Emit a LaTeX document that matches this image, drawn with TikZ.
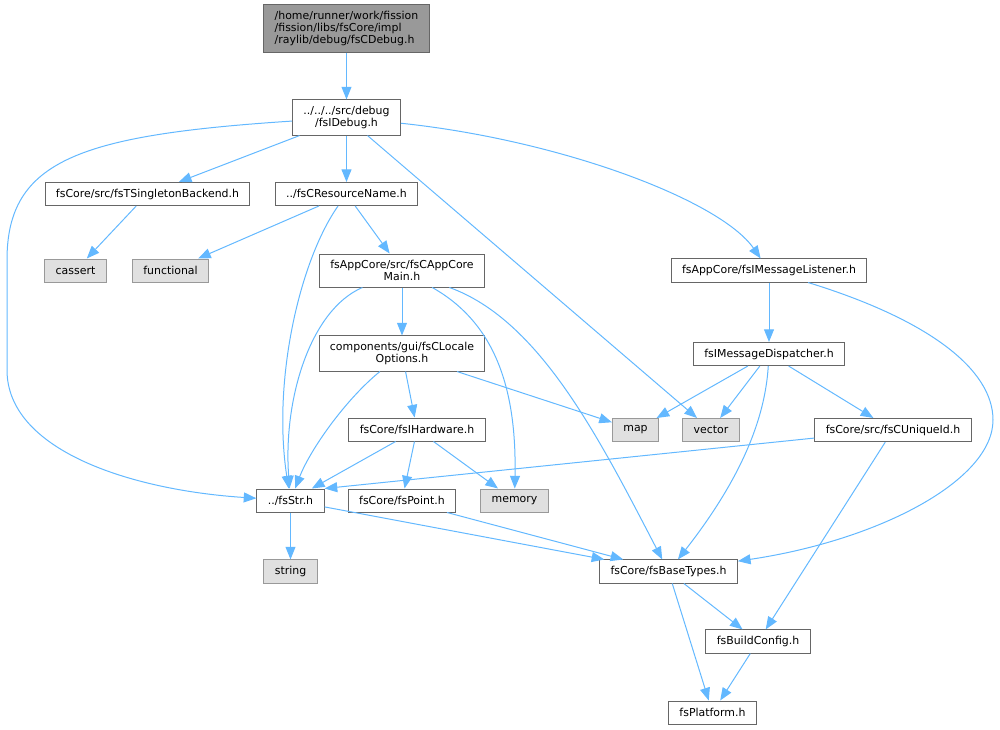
\documentclass[tikz,border=0pt]{standalone}
\usepackage{fontspec}
\setmainfont{DejaVu Sans}
\usetikzlibrary{arrows.meta}
\definecolor{edgeblue}{HTML}{63B8FF}
\definecolor{boxgray}{HTML}{666666}
\definecolor{sysgray}{HTML}{999999}
\definecolor{sysfill}{HTML}{E0E0E0}
\begin{document}
\begin{tikzpicture}[x=0.75pt,y=-0.75pt,
every node/.style={font=\fontsize{8.2}{9}\selectfont,inner xsep=8.2pt,inner ysep=4.7pt,minimum height=17.25pt,line width=0.75pt},
file/.style={rectangle,draw=boxgray,fill=white,align=center},
sys/.style={rectangle,draw=sysgray,fill=sysfill},
top/.style={rectangle,draw=boxgray,fill=sysgray,align=left},
inc/.style={draw=edgeblue,line width=0.75pt,-{Triangle[length=9.5pt,width=7.5pt]}}]
\useasboundingbox (0,0) rectangle (1000,729);
\node[top] (root) at (346.5,28.5) {/home/runner/work/fission\\/fission/libs/fsCore/impl\\/raylib/debug/fsCDebug.h};
\node[file] (idebug) at (346.5,117.5) {../../../src/debug\\/fsIDebug.h};
\node[file] (tsing) at (147.5,194) {fsCore/src/fsTSingletonBackend.h};
\node[file] (resname) at (346.5,194) {../fsCResourceName.h};
\node[sys] (cassert) at (75.5,270.5) {cassert};
\node[sys] (functional) at (170.5,270.5) {functional};
\node[file] (appmain) at (402,270.5) {fsAppCore/src/fsCAppCore\\Main.h};
\node[file] (msglistener) at (769,270.5) {fsAppCore/fsIMessageListener.h};
\node[file] (dispatcher) at (769,354) {fsIMessageDispatcher.h};
\node[file] (locale) at (402,353.5) {components/gui/fsCLocale\\Options.h};
\node[file] (hardware) at (417,429.5) {fsCore/fsIHardware.h};
\node[sys] (map) at (635.5,430) {map};
\node[sys] (vector) at (711,430) {vector};
\node[file] (uniqueid) at (893,430) {fsCore/src/fsCUniqueId.h};
\node[file] (str) at (290.5,500.5) {../fsStr.h};
\node[file] (point) at (402,500.5) {fsCore/fsPoint.h};
\node[sys] (memory) at (514.5,500.5) {memory};
\node[sys] (string) at (290.5,571.5) {string};
\node[file] (basetypes) at (668.5,571.5) {fsCore/fsBaseTypes.h};
\node[file] (buildconfig) at (758,641.5) {fsBuildConfig.h};
\node[file] (platform) at (712.5,712.5) {fsPlatform.h};
\draw[inc] (root) -- (idebug);
\draw[inc] (idebug) .. controls (80,135) and (7,160) .. (7,260) -- (7,370) .. controls (7,450) and (130,490) .. (str);
\draw[inc] (idebug) -- (tsing);
\draw[inc] (idebug) -- (resname);
\draw[inc] (idebug) -- (vector);
\draw[inc] (idebug) .. controls (560,140) and (720,200) .. (msglistener);
\draw[inc] (tsing) -- (cassert);
\draw[inc] (resname) -- (functional);
\draw[inc] (resname) .. controls (300,260) and (272,380) .. (str);
\draw[inc] (resname) -- (appmain);
\draw[inc] (appmain) -- (locale);
\draw[inc] (appmain) .. controls (310,310) and (283,400) .. (str);
\draw[inc] (appmain) .. controls (490,320) and (517,380) .. (memory);
\draw[inc] (appmain) .. controls (540,320) and (600,440) .. (basetypes);
\draw[inc] (locale) .. controls (345,400) and (310,450) .. (str);
\draw[inc] (locale) -- (hardware);
\draw[inc] (locale) -- (map);
\draw[inc] (hardware) -- (str);
\draw[inc] (hardware) -- (point);
\draw[inc] (hardware) -- (memory);
\draw[inc] (str) -- (string);
\draw[inc] (str) -- (basetypes);
\draw[inc] (point) -- (basetypes);
\draw[inc] (msglistener) -- (dispatcher);
\draw[inc] (msglistener) .. controls (930,320) and (993,370) .. (993,420) .. controls (993,480) and (880,540) .. (basetypes);
\draw[inc] (dispatcher) -- (map);
\draw[inc] (dispatcher) -- (vector);
\draw[inc] (dispatcher) -- (uniqueid);
\draw[inc] (dispatcher) .. controls (765,420) and (740,480) .. (basetypes);
\draw[inc] (uniqueid) -- (str.north east);
\draw[inc] (uniqueid) -- (buildconfig);
\draw[inc] (basetypes) -- (buildconfig);
\draw[inc] (basetypes) -- (platform);
\draw[inc] (buildconfig) -- (platform);
\end{tikzpicture}
\end{document}
